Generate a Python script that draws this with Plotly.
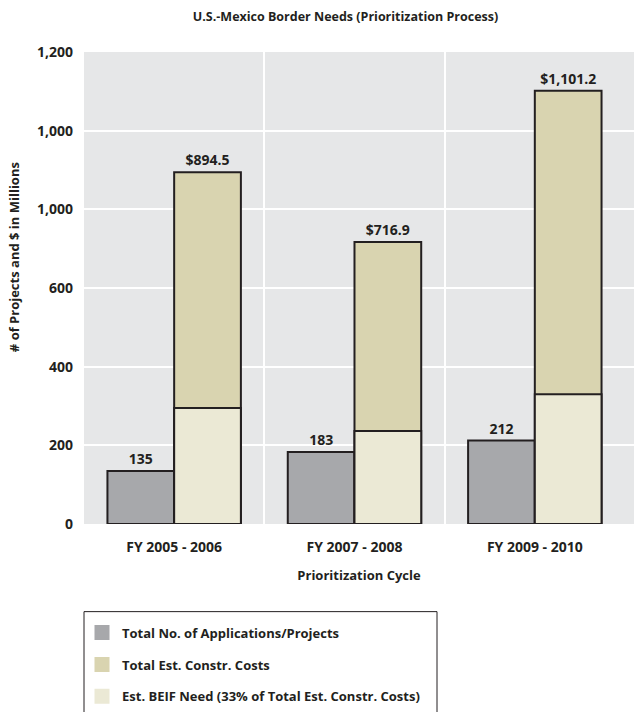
import plotly.graph_objects as go

# Prioritization cycles and the three measures per cycle
cycles = ["FY 2005 - 2006", "FY 2007 - 2008", "FY 2009 - 2010"]
projects = [135, 183, 212]               # Total No. of Applications/Projects
total_costs = [894.5, 716.9, 1101.2]     # Total Est. Constr. Costs ($M)
beif_need = [295.2, 236.6, 330.0]        # Est. BEIF Need ($M)

y_tickvals = [0, 200, 400, 600, 800, 1000, 1200]
y_ticktext = ["0", "200", "400", "600", "1,000", "1,000", "1,200"]

GRAY = "#a7a8ab"
TAN = "#d9d4b0"
CREAM = "#ebe9d5"
INK = "#231f20"
FONT = "Open Sans"

xpos = list(range(len(cycles)))
outline = dict(color=INK, width=2)
label_font = dict(family=FONT, size=14, color=INK, weight=700)

fig = go.Figure()

fig.add_trace(go.Bar(
    x=xpos, y=projects, offsetgroup="projects",
    marker=dict(color=GRAY, line=outline),
    texttemplate="%{y}", textposition="outside", textfont=label_font,
    cliponaxis=False, showlegend=False, hoverinfo="skip",
))
fig.add_trace(go.Bar(
    x=xpos, y=total_costs, offsetgroup="costs",
    marker=dict(color=TAN, line=outline),
    texttemplate="$%{y:,.1f}", textposition="outside", textfont=label_font,
    cliponaxis=False, showlegend=False, hoverinfo="skip",
))
fig.add_trace(go.Bar(
    x=xpos, y=beif_need, offsetgroup="costs",
    marker=dict(color=CREAM, line=outline),
    showlegend=False, hoverinfo="skip",
))

# Legend entries: plain square swatches without outlines
legend_items = [
    ("Total No. of Applications/Projects", GRAY),
    ("Total Est. Constr. Costs", TAN),
    ("Est. BEIF Need (33% of Total Est. Constr. Costs)", CREAM),
]
for i, (name, color) in enumerate(legend_items):
    fig.add_trace(go.Scatter(
        x=[None], y=[None], mode="markers", name=name,
        marker=dict(symbol="square", size=15, color=color),
        legendgroup=f"g{i}",
    ))

fig.update_layout(
    width=634, height=712,
    margin=dict(l=84, r=0, t=52, b=186),
    paper_bgcolor="white",
    plot_bgcolor="#e6e7e8",
    barmode="group", bargap=0.26, bargroupgap=0,
    font=dict(family=FONT, size=13, color=INK, weight=700),
    title=dict(
        text="U.S.-Mexico Border Needs (Prioritization Process)",
        font=dict(family=FONT, size=12.5, color=INK, weight=700),
        x=0.545, xref="container", xanchor="center",
        y=1 - 17 / 712, yref="container", yanchor="middle",
    ),
    xaxis=dict(
        range=[-0.5, 2.55],
        tickmode="array", tickvals=xpos, ticktext=cycles,
        tickfont=dict(family=FONT, size=14, color=INK, weight=700),
        showgrid=False, zeroline=False, showline=False,
        ticks="", ticklabelstandoff=13,
        minor=dict(tickvals=[0.5, 1.5], showgrid=True,
                   gridcolor="white", gridwidth=2, ticks=""),
        title=dict(text="Prioritization Cycle", standoff=15,
                   font=dict(family=FONT, size=13, color=INK, weight=700)),
    ),
    yaxis=dict(
        range=[0, 1200],
        tickmode="array", tickvals=y_tickvals, ticktext=y_ticktext,
        tickfont=dict(family=FONT, size=14, color=INK, weight=700),
        showgrid=True, gridcolor="white", gridwidth=1.5,
        zeroline=False, showline=False, ticks="", ticklabelstandoff=10,
    ),
    legend=dict(
        x=-2 / 550, xanchor="left", xref="paper",
        y=(526 - 620) / 474, yanchor="top", yref="paper",
        bgcolor="rgba(0,0,0,0)", borderwidth=0,
        tracegroupgap=12,
        font=dict(family=FONT, size=13, color=INK, weight=700),
    ),
    annotations=[dict(
        text="# of Projects and $ in Millions",
        textangle=-90, showarrow=False,
        xref="paper", x=-70 / 550, xanchor="center",
        yref="paper", y=(526 - 258) / 474, yanchor="middle",
        font=dict(family=FONT, size=13, color=INK, weight=700),
    )],
    shapes=[dict(
        type="rect", xref="paper", yref="paper",
        x0=0, x1=(437 - 84) / 550,
        y0=(526 - 740) / 474, y1=(526 - 614) / 474,
        line=dict(color=INK, width=1), fillcolor="rgba(0,0,0,0)",
    )],
)

fig.write_html("out.html")
